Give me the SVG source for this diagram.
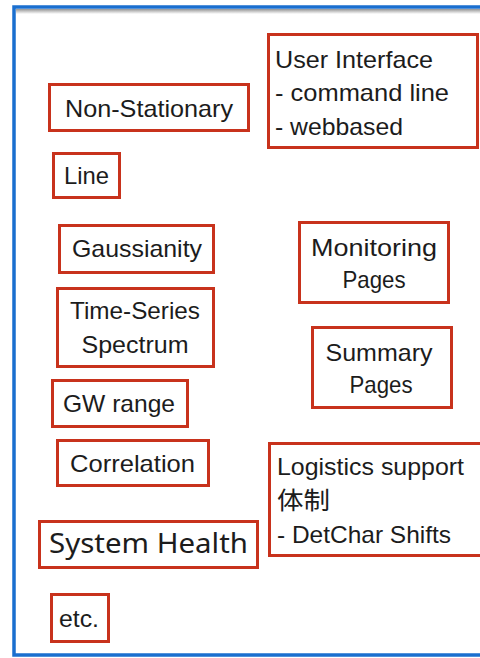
<svg xmlns="http://www.w3.org/2000/svg" width="480" height="658" viewBox="0 0 480 658">
<defs>
<linearGradient id="shadow" x1="0" y1="0" x2="0" y2="1">
<stop offset="0" stop-color="#7a7a7a" stop-opacity="0.8"/>
<stop offset="1" stop-color="#7a7a7a" stop-opacity="0"/>
</linearGradient>
</defs>
<style>
.box{fill:#ffffff;stroke:#c8321c;stroke-width:3}
.t{font-family:"Liberation Sans",Arial,"Noto Sans CJK JP",sans-serif;font-size:24px;fill:#1c1c1c}
.c{text-anchor:middle}
.sh{font-family:"Noto Sans","Liberation Sans",sans-serif;font-size:28px;fill:#1c1c1c}
</style>
<rect width="480" height="658" fill="#ffffff"/>
<g id="frame">
<rect x="16" y="9" width="470" height="5" fill="url(#shadow)"/>
<rect x="14" y="7" width="490" height="648" fill="none" stroke="#1a6fcf" stroke-width="3.5"/>
</g>
<g id="connectors"></g>
<g id="non-stationary">
<rect class="box" x="49.5" y="84.5" width="199" height="46"/>
<text class="t" x="65" y="117" textLength="168" lengthAdjust="spacingAndGlyphs">Non-Stationary</text>
</g>
<g id="user-interface">
<rect class="box" x="268.5" y="34.5" width="209" height="113"/>
<text class="t" x="275" y="68" textLength="158" lengthAdjust="spacingAndGlyphs">User Interface</text>
<text class="t" x="275" y="101" textLength="174" lengthAdjust="spacingAndGlyphs">- command line</text>
<text class="t" x="275" y="135" textLength="128" lengthAdjust="spacingAndGlyphs">- webbased</text>
</g>
<g id="line">
<rect class="box" x="53.5" y="153.5" width="66" height="44"/>
<text class="t" x="64" y="184" textLength="45" lengthAdjust="spacingAndGlyphs">Line</text>
</g>
<g id="gaussianity">
<rect class="box" x="59.5" y="225.5" width="154" height="47"/>
<text class="t" x="72" y="257" textLength="130" lengthAdjust="spacingAndGlyphs">Gaussianity</text>
</g>
<g id="monitoring-pages">
<rect class="box" x="299.5" y="222.5" width="149" height="80"/>
<text class="t c" x="374" y="256" textLength="126" lengthAdjust="spacingAndGlyphs">Monitoring</text>
<text class="t c" x="374" y="288" textLength="63" lengthAdjust="spacingAndGlyphs">Pages</text>
</g>
<g id="time-series-spectrum">
<rect class="box" x="57.5" y="288.5" width="156" height="78"/>
<text class="t c" x="135" y="319" textLength="130" lengthAdjust="spacingAndGlyphs">Time-Series</text>
<text class="t c" x="135" y="353" textLength="107" lengthAdjust="spacingAndGlyphs">Spectrum</text>
</g>
<g id="summary-pages">
<rect class="box" x="312.5" y="327.5" width="139" height="80"/>
<text class="t c" x="379" y="361" textLength="107" lengthAdjust="spacingAndGlyphs">Summary</text>
<text class="t c" x="381" y="393" textLength="63" lengthAdjust="spacingAndGlyphs">Pages</text>
</g>
<g id="gw-range">
<rect class="box" x="52.5" y="380.5" width="135" height="46"/>
<text class="t" x="63" y="412" textLength="112" lengthAdjust="spacingAndGlyphs">GW range</text>
</g>
<g id="correlation">
<rect class="box" x="57.5" y="440.5" width="151" height="45"/>
<text class="t" x="70" y="472" textLength="125" lengthAdjust="spacingAndGlyphs">Correlation</text>
</g>
<g id="logistics">
<rect class="box" x="269.5" y="443.5" width="220" height="112"/>
<text class="t" x="277" y="475" textLength="187" lengthAdjust="spacingAndGlyphs">Logistics support</text>
<text class="t" x="277" y="509" textLength="53" lengthAdjust="spacingAndGlyphs">体制</text>
<text class="t" x="277" y="543" textLength="174" lengthAdjust="spacingAndGlyphs">- DetChar Shifts</text>
</g>
<g id="system-health">
<rect class="box" x="39.5" y="521.5" width="218" height="46"/>
<text class="sh" x="49" y="553" textLength="199" lengthAdjust="spacingAndGlyphs">System Health</text>
</g>
<g id="etc">
<rect class="box" x="51.5" y="594.5" width="57" height="47"/>
<text class="t" x="59" y="627" textLength="40" lengthAdjust="spacingAndGlyphs">etc.</text>
</g>
</svg>
